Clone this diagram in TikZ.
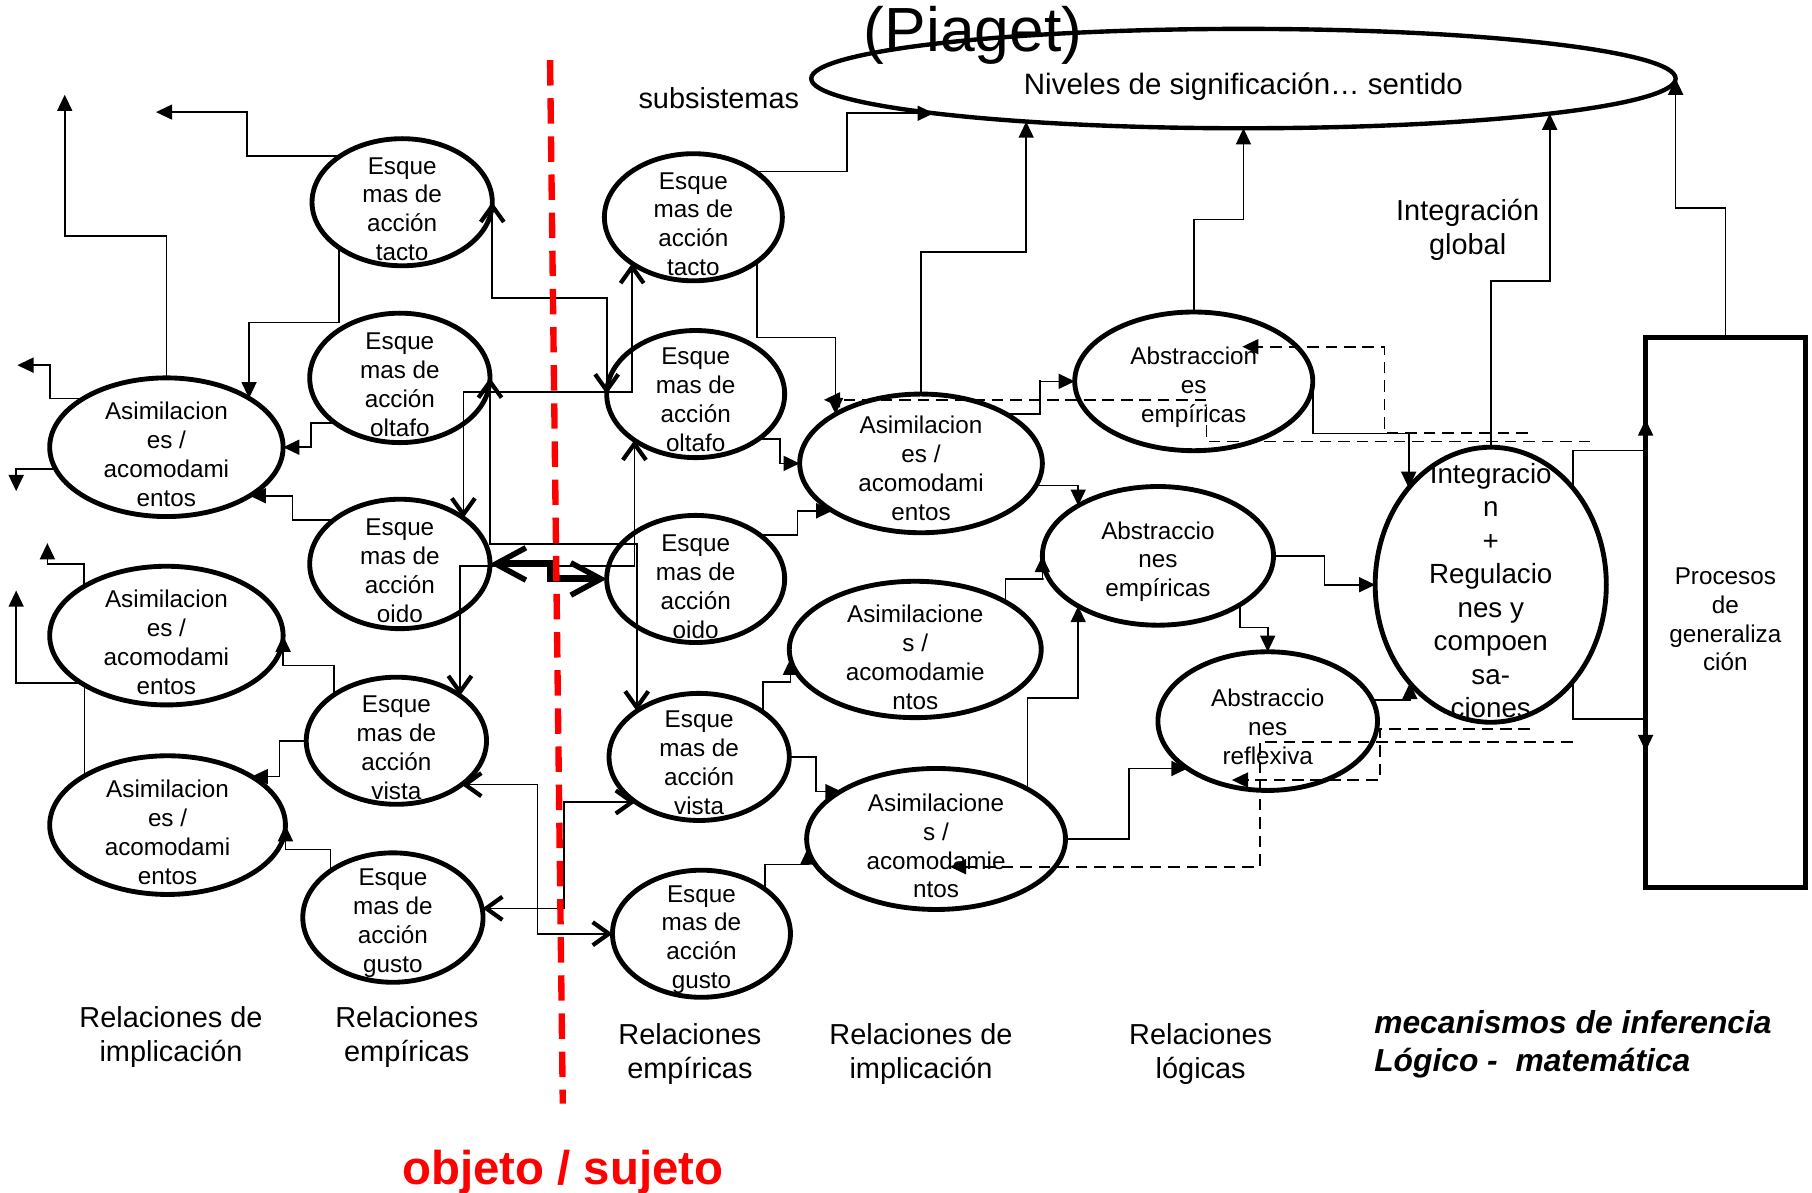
\documentclass[tikz,border=0pt]{standalone}
\usepackage{fontspec}
\setmainfont{Liberation Sans}
\usetikzlibrary{arrows.meta,shapes.geometric,calc}
\begin{document}
\begin{tikzpicture}[x=1pt,y=-1pt,
  ell/.style={draw,ellipse,line width=4.2pt,inner sep=0pt,outer sep=0pt},
  etext/.style={align=center,font=\fontsize{21}{25}\selectfont,inner sep=0pt},
  lbl/.style={align=center,font=\fontsize{25}{29.5}\selectfont,inner sep=0pt},
  con/.style={line width=1.4pt},
  arr/.style={con,arrows={-Triangle[length=14pt,width=13pt]}},
  dbl/.style={con,arrows={Straight Barb[length=14pt,width=20pt,line width=0pt 2.6]-Straight Barb[length=14pt,width=20pt,line width=0pt 2.6]}},
  tdbl/.style={line width=6pt,arrows={Straight Barb[length=26pt,width=28pt,line width=0pt 0.8]-Straight Barb[length=26pt,width=28pt,line width=0pt 0.8]}},
  darr/.style={line width=1.6pt,dash pattern=on 10pt off 6pt,arrows={-Triangle[length=14pt,width=13pt]}},
]
\useasboundingbox (0,0) rectangle (1568,1032);

% ---------- ellipses ----------
\node[ell,minimum width=202pt,minimum height=120pt] (a1) at (144,387) {};
\node[ell,minimum width=202pt,minimum height=120pt] (a2) at (144,550) {};
\node[ell,minimum width=204pt,minimum height=120pt] (a3) at (145,714) {};
\node[ell,minimum width=156pt,minimum height=110pt] (b1) at (348,175) {};
\node[ell,minimum width=156pt,minimum height=112pt] (b2) at (346,327) {};
\node[ell,minimum width=156pt,minimum height=112pt] (b3) at (346,488) {};
\node[ell,minimum width=156pt,minimum height=110pt] (b4) at (343,641) {};
\node[ell,minimum width=156pt,minimum height=112pt] (b5) at (340,794) {};
\node[ell,minimum width=154pt,minimum height=110pt] (c1) at (600,188) {};
\node[ell,minimum width=154pt,minimum height=110pt] (c2) at (602,341) {};
\node[ell,minimum width=154pt,minimum height=110pt] (c3) at (602,501) {};
\node[ell,minimum width=156pt,minimum height=110pt] (c4) at (605,655) {};
\node[ell,minimum width=154pt,minimum height=110pt] (c5) at (607,808) {};
\node[ell,minimum width=210pt,minimum height=120pt] (d1) at (797,401) {};
\node[ell,minimum width=218pt,minimum height=118pt] (d2) at (792,562) {};
\node[ell,minimum width=224pt,minimum height=122pt] (d3) at (810,726) {};
\node[ell,minimum width=206pt,minimum height=120pt] (e1) at (1033,330) {};
\node[ell,minimum width=200pt,minimum height=120pt] (e2) at (1002,481) {};
\node[ell,minimum width=190pt,minimum height=120pt] (e3) at (1097,624) {};
\node[ell,minimum width=200pt,minimum height=238pt] (fi) at (1290,506) {};
\node[ell,line width=3.8pt,minimum width=748pt,minimum height=86pt] (top) at (1076,68) {};
\node[draw,rectangle,line width=4.3pt,inner sep=0pt,outer sep=0pt,minimum width=138pt,minimum height=476pt] (box) at (1493,530) {};

% ---------- texts in shapes ----------
\node[etext] (a1t) at (144,393) {Asimilacion\\es /\\acomodami\\entos};
\node[etext] (a2t) at (144,556) {Asimilacion\\es /\\acomodami\\entos};
\node[etext] (a3t) at (145,720) {Asimilacion\\es /\\acomodami\\entos};
\node[etext] (b1t) at (348,181) {Esque\\mas de\\acción\\tacto};
\node[etext] (b2t) at (346,333) {Esque\\mas de\\acción\\oltafo};
\node[etext] (b3t) at (346,494) {Esque\\mas de\\acción\\oido};
\node[etext] (b4t) at (343,647) {Esque\\mas de\\acción\\vista};
\node[etext] (b5t) at (340,799) {Esque\\mas de\\acción\\gusto};
\node[etext] (c1t) at (600,194) {Esque\\mas de\\acción\\tacto};
\node[etext] (c2t) at (602,346) {Esque\\mas de\\acción\\oltafo};
\node[etext] (c3t) at (602,508) {Esque\\mas de\\acción\\oido};
\node[etext] (c4t) at (605,660) {Esque\\mas de\\acción\\vista};
\node[etext] (c5t) at (607,813) {Esque\\mas de\\acción\\gusto};
\node[etext] (d1t) at (797,405) {Asimilacion\\es /\\acomodami\\entos};
\node[etext] (d2t) at (792,569) {Asimilacione\\s /\\acomodamie\\ntos};
\node[etext] (d3t) at (810,732) {Asimilacione\\s /\\acomodamie\\ntos};
\node[etext] (e1t) at (1033,335) {Abstraccion\\es\\empíricas};
\node[etext] (e2t) at (1002,486) {Abstraccio\\nes\\empíricas};
\node[etext] (e3t) at (1097,629) {Abstraccio\\nes\\reflexiva};
\node[align=center,inner sep=0pt,font=\fontsize{24}{29}\selectfont] (fit) at (1290,511) {Integracio\\n\\+\\Regulacio\\nes y\\compoen\\sa-\\ciones};
\node[etext] (boxt) at (1493,536) {Procesos\\de\\generaliza\\ción};
\node[inner sep=0pt,font=\fontsize{25.5}{29.5}\selectfont] (topt) at (1076,75) {Niveles de significación… sentido};

% ---------- labels ----------
\node[inner sep=0pt,anchor=base,font=\fontsize{54}{60}\selectfont] (piaget) at (842,45) {(Piaget)};
\node[lbl] (subs) at (622,85) {subsistemas};
\node[lbl] (intg) at (1270,199) {Integración\\global};
\node[lbl] (r1) at (148,897) {Relaciones de\\implicación};
\node[lbl] (r2) at (352,897) {Relaciones\\empíricas};
\node[lbl] (r3) at (597,912) {Relaciones\\empíricas};
\node[lbl] (r4) at (797,912) {Relaciones de\\implicación};
\node[lbl] (r5) at (1039,912) {Relaciones\\lógicas};
\node[inner sep=0pt,anchor=west,align=left,font=\fontsize{27.5}{33}\selectfont\bfseries\itshape] (mec) at (1189,904) {mecanismos de inferencia\\Lógico -~~matemática};
\node[inner sep=0pt,anchor=base,text=red,font=\fontsize{41}{49}\selectfont\bfseries] (obj) at (487,1025) {objeto / sujeto};

% ---------- free ends ----------
\coordinate (o1) at (56,82);
\coordinate (o2) at (135,97);
\coordinate (o3) at (15,316);
\coordinate (o4) at (14,425);
\coordinate (o5) at (41,470);
\coordinate (o6) at (14,511);
\coordinate (q1s) at (1376,382); \coordinate (q1e) at (713,346);
\coordinate (q2s) at (1322,375); \coordinate (q2e) at (1075,300);
\coordinate (q3s) at (1324,631); \coordinate (q3e) at (1066,675);
\coordinate (q4s) at (1361,642); \coordinate (q4e) at (822,750);
\coordinate (bx1) at ($(box.north west)!0.149!(box.south west)$);
\coordinate (bx2) at ($(box.north west)!0.752!(box.south west)$);
\coordinate (rtop) at (476,52);
\coordinate (rbot) at (487,955);

% ---------- left side connectors ----------
\draw[arr] (a1.north) |- (56,204) -- (o1);
\draw[arr] ($(b1)+(-53.5,-40)$) -| (214,97) -- (o2);
\draw[arr] ($(b1)+(-54.5,39.4)$) |- (215.5,279) -| ($(a1)+(71.5,-42.4)$);
\draw[arr] ($(b2)+(-56,39)$) -| (269,386) |- (a1.east);
\draw[arr] ($(b3)+(-57.3,-38)$) -| (253,429) |- ($(a1)+(72.1,42)$);
\draw[arr] ($(a1)+(-72.1,-42)$) -| (43,316) -- (o3);
\draw[arr] ($(a1)+(-95.8,19)$) -| (o4);
\draw[arr] ($(b4)+(-54,-39.7)$) |- (246,576) -| (a2.east);
\draw[arr] (b4.west) -| (242,672) |- ($(a3)+(72.8,-42)$);
\draw[arr] ($(b5)+(-54,-40.4)$) |- (248,735) -| (a3.east);
\draw[arr] ($(a2)+(-71.5,-42.4)$) |- (41,488) -- (o5);
\draw[arr] ($(a3)+(-72,-42.5)$) |- (14,591) -- (o6);

% ---------- crossing (double) connectors ----------
\draw[dbl] (b1.east) |- (526,258) -| (c2.west);
\draw[dbl] ($(c1)+(-53,39.9)$) |- (401,339) -| ($(b3)+(55,-39.7)$);
\draw[dbl] (b2.east) |- (551,471) -| ($(c4)+(-54,-39.7)$);
\draw[dbl] ($(c2)+(-53,39.9)$) |- (398,490) -| ($(b4)+(55,-39)$);
\draw[tdbl] (b3.east) -| (476,495) |- (c3.west);
\draw[dbl] ($(c4)+(-55,39)$) -| (488,786) |- ($(b5)+(77.6,-8)$);
\draw[dbl] ($(b4)+(56.4,38)$) -| (465,808) |- (c5.west);

% ---------- right side connectors ----------
\draw[arr] ($(c1)+(53.6,-39.5)$) -| (733,98) |- ($(top)+(-268,30)$);
\draw[arr] (d1.north) |- (888,218) -| ($(top)+(-188,37.2)$);
\draw[arr] ($(c1)+(55,38.5)$) |- (723,292) -| ($(d1)+(-74,-42.6)$);
\draw[arr] (e1.east) |- (1219,375) -| ($(fi)+(-71,-83.8)$);
\draw[arr] (fi.north) |- (1341,243) -| ($(top)+(265,30.3)$);
\draw[arr] (e1.north) |- (1076,190) -| (top.south);
\draw[arr] (box.north) |- (1450,180) -| (top.east);
\draw[arr] ($(d1)+(73.2,-43)$) -| (900,329) |- (e1.west);
\draw[arr] ($(d1)+(99.6,19)$) -| ($(e2)+(-69,-43.4)$);
\draw[arr] ($(d2)+(78,-41.2)$) |- (903,501) -| (e2.west);
\draw[arr] ($(d3)+(79,-43.2)$) |- (933,604) -| ($(e2)+(-69,43.4)$);
\draw[arr] (d3.east) -| (977,665) |- ($(e3)+(-69.4,41)$);
\draw[arr] (e2.east) -| (1146,505) |- (fi.west);
\draw[arr] ($(e2)+(71,42.3)$) |- (1097,543) -| (e3.north);
\draw[arr] ($(e3)+(90.6,-18)$) -| ($(fi)+(-70,85)$);
\draw[arr] ($(fi)+(71,-83.8)$) |- (1424,390) -- (bx1);
\draw[arr] ($(fi)+(71,83.8)$) |- (1424,622) -- (bx2);
\draw[arr] ($(c2)+(54.3,39)$) -| (675,400) |- (d1.west);
\draw[arr] ($(c3)+(55.7,-38)$) -| (690,442) |- ($(d1)+(-76.7,41)$);
\draw[arr] ($(c4)+(55,-39)$) |- (684,590) -| ($(d2)+(-108,8)$);
\draw[arr] (c4.east) -| (706,685) |- ($(d3)+(-81.8,-41)$);
\draw[arr] ($(c5)+(55,-38.5)$) |- (699,748) -| ($(d3)+(-111,8.1)$);

% ---------- dashed feedback ----------
\draw[darr] (q1s) -| (1044,346) -- (q1e);
\draw[darr] (q2s) -| (1198,300) -- (q2e);
\draw[darr] (q3s) -| (1194,675) -- (q3e);
\draw[darr] (q4s) -| (1090,750) -- (q4e);

% ---------- red divider ----------
\draw[red,line width=5.5pt,dash pattern=on 22pt off 11pt] (rtop) -- (rbot);
\end{tikzpicture}
\end{document}
